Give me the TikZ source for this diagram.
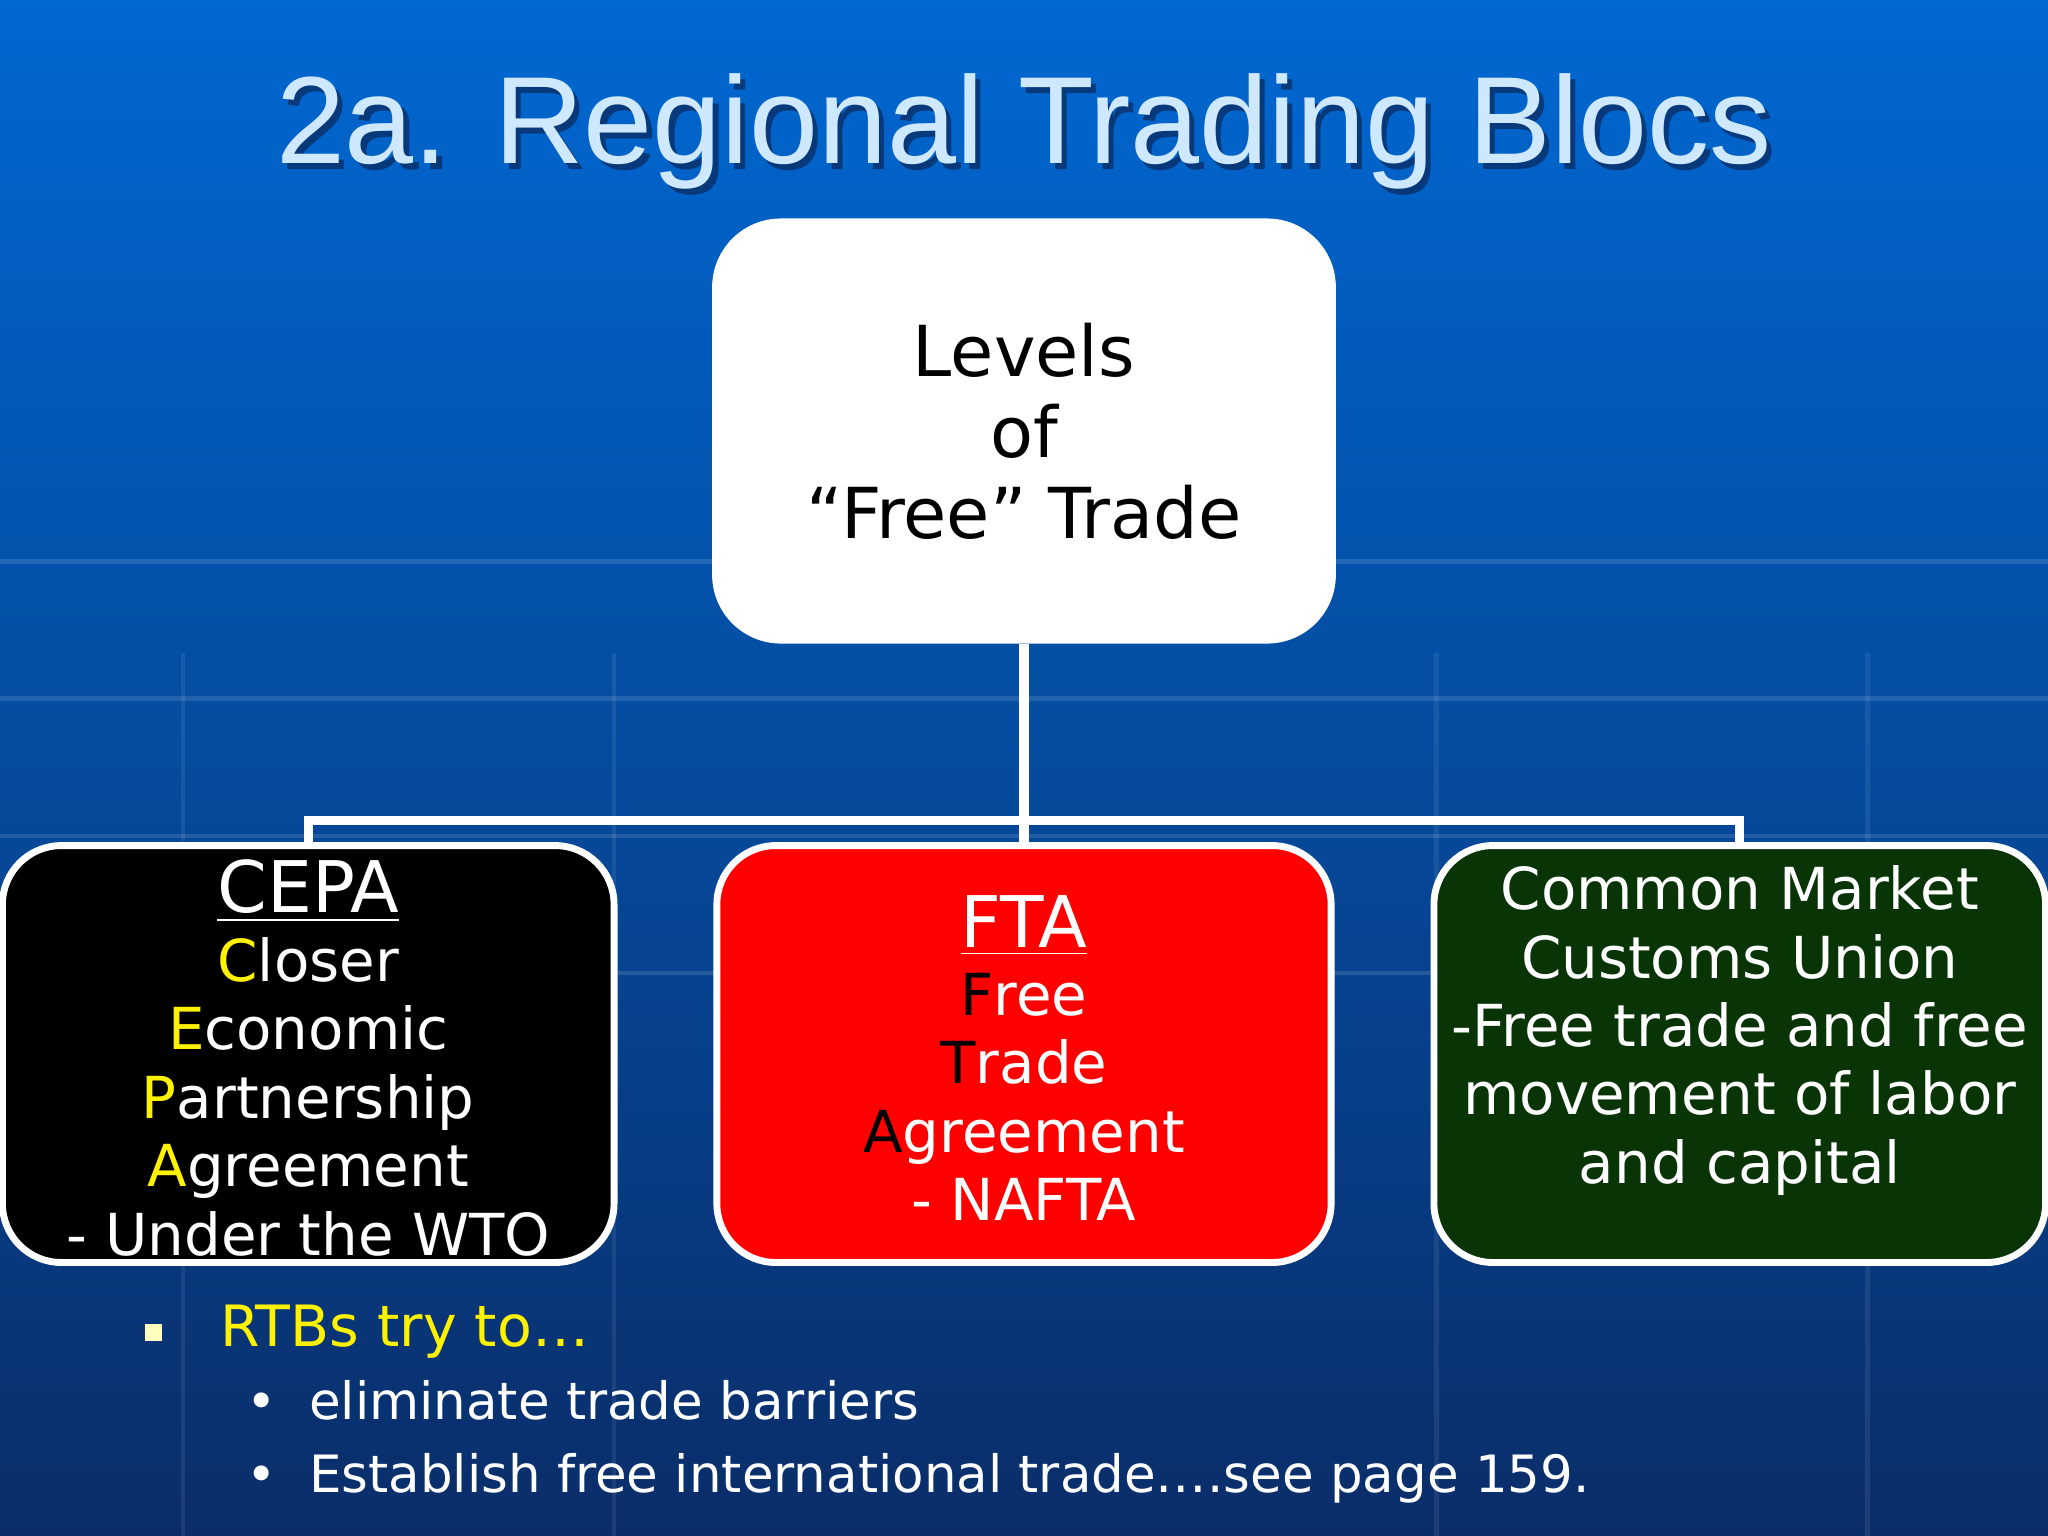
\documentclass[tikz,border=0pt]{standalone}
\usepackage{fontspec}
\setmainfont{DejaVu Sans}
\newfontfamily\titlefont{Liberation Sans}
\definecolor{bgtop}{RGB}{0,104,210}
\definecolor{bgbot}{RGB}{10,45,105}
\definecolor{titleshadow}{RGB}{10,40,90}
\definecolor{titlecol}{RGB}{205,232,255}
\definecolor{ftared}{RGB}{255,0,0}
\definecolor{cmgreen}{RGB}{8,52,6}
\definecolor{bulletsq}{RGB}{255,255,190}
\begin{document}
\begin{tikzpicture}[x=0.01cm,y=-0.01cm,
  box/.style={draw=white,line width=1.5pt,rounded corners=0.45cm,minimum width=#1},
  body/.style={font=\fontsize{12.6}{14.9}\selectfont,align=center,text=white},
  small/.style={anchor=base west,text=white,font=\fontsize{11.2}{13}\selectfont},
  conn/.style={draw=white,line width=2pt}]
\useasboundingbox (0,0) rectangle (1568,1176);
\shade[top color=bgtop,bottom color=bgbot] (0,0) rectangle (1568,1176);
\foreach \yy in {430,535,640,745} \draw[white,opacity=0.12,line width=1pt] (0,\yy) -- (1568,\yy);
\foreach \xx in {140,470,1100,1430} \draw[white,opacity=0.08,line width=1pt] (\xx,500) -- (\xx,1176);
% title
\node[text=titleshadow,opacity=0.7,font=\titlefont\fontsize{27}{30}\selectfont] at (788,105) {2a. Regional Trading Blocs};
\node (title) [text=titlecol,font=\titlefont\fontsize{27}{30}\selectfont] at (784,101) {2a. Regional Trading Blocs};
% top box
\node (top) [box=4.72cm,fill=white,minimum height=3.2cm,rounded corners=0.5cm,font=\fontsize{15.3}{17.6}\selectfont,align=center] at (784,330) {Levels\\of\\``Free'' Trade};
% bottom boxes
\node (cepa) [box=4.68cm,fill=black,minimum height=3.19cm] at (236,807) {};
\node (fta) [box=4.70cm,fill=ftared,minimum height=3.19cm] at (784,807) {};
\node (cm) [box=4.68cm,fill=cmgreen,minimum height=3.19cm] at (1332,807) {};
\node[body] at (236,810) {{\fontsize{15.5}{18}\selectfont\underline{CEPA}}\\\textcolor{yellow}{C}loser\\\textcolor{yellow}{E}conomic\\\textcolor{yellow}{P}artnership\\\textcolor{yellow}{A}greement\\- Under the WTO};
\node[body] at (784,810) {{\fontsize{15.5}{18}\selectfont\underline{FTA}}\\\textcolor{black}{F}ree\\\textcolor{black}{T}rade\\\textcolor{black}{A}greement\\- NAFTA};
\node[body] at (1332,789) {Common Market\\Customs Union\\-Free trade and free\\movement of labor\\and capital};
% connectors
\coordinate (j) at (784,628);
\draw[conn] (top.south) -- (j);
\draw[conn] (cepa.north) -- (236,628) -- (1332,628) -- (cm.north);
\draw[conn] (j) -- (fta.north);
% bullets
\fill[bulletsq] (111,1014) rectangle (124,1027);
\node[anchor=base west,text=yellow,font=\fontsize{12.4}{14}\selectfont,inner sep=0pt] (b0) at (168,1031) {RTBs try to\dots};
\node[small,inner sep=0pt] (d1) at (188,1087) {•};
\node[small,inner sep=0pt] (b1) at (236,1087) {eliminate trade barriers};
\node[small,inner sep=0pt] (d2) at (188,1143) {•};
\node[small,inner sep=0pt] (b2) at (236,1143) {Establish free international trade….see page 159.};
\end{tikzpicture}
\end{document}
